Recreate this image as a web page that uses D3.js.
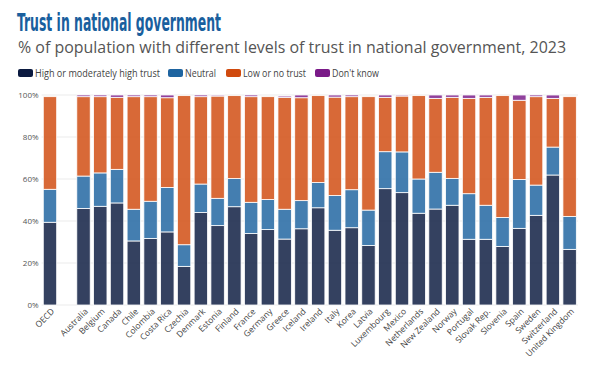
<!DOCTYPE html>
<html>
<head>
<meta charset="utf-8">
<script src="https://cdn.jsdelivr.net/npm/d3@7"></script>
<style>
  body { margin: 0; background: #fff; }
  svg text { font-family: "Open Sans", "Noto Sans", sans-serif; }
</style>
</head>
<body>
<svg id="chart" width="600" height="374"></svg>
<script>
const COUNTRIES = [
  'OECD', 'Australia', 'Belgium', 'Canada', 'Chile', 'Colombia', 'Costa Rica', 'Czechia',
  'Denmark', 'Estonia', 'Finland', 'France', 'Germany', 'Greece', 'Iceland', 'Ireland',
  'Italy', 'Korea', 'Latvia', 'Luxembourg', 'Mexico', 'Netherlands', 'New Zealand',
  'Norway', 'Portugal', 'Slovak Rep.', 'Slovenia', 'Spain', 'Sweden', 'Switzerland',
  'United Kingdom'
]

const HIGH = [39.4, 46.0, 47.0, 48.6, 30.5, 31.7, 34.8, 18.4, 44.0, 37.8, 46.8, 34.0, 35.9, 31.4, 36.3, 46.3,
  35.6, 36.8, 28.3, 55.4, 53.5, 43.7, 45.7, 47.5, 31.3, 31.3, 27.9, 36.5, 42.7, 61.9, 26.5]
const NEUTRAL = [15.7, 15.4, 15.9, 16.0, 15.1, 17.7, 21.2, 10.3, 13.6, 13.0, 13.4, 14.9, 14.3, 14.2, 13.4, 12.0,
  16.5, 18.1, 16.9, 17.6, 19.4, 16.3, 17.5, 12.8, 21.7, 16.2, 13.8, 23.3, 14.4, 13.3, 15.7]
const LOW = [44.1, 37.8, 36.3, 34.3, 53.6, 49.8, 42.7, 71.0, 41.6, 48.7, 39.5, 50.3, 49.0, 53.3, 49.0, 41.4,
  46.9, 44.3, 54.0, 25.9, 26.6, 39.7, 35.2, 38.6, 45.4, 51.4, 58.0, 37.7, 42.1, 23.2, 57.0]
const DONT_KNOW = [0, 0.8, 0.8, 1.1, 0.8, 0.8, 1.3, 0, 0.8, 0.5, 0, 0.8, 0, 0.6, 1.3, 0,
  1.0, 0.8, 0, 1.1, 0.5, 0, 1.6, 1.1, 1.6, 1.1, 0, 2.5, 0.8, 1.6, 0]

const SERIES = ['High or moderately high trust', 'Neutral', 'Low or no trust', "Don't know"]
const COLORS = ['#0b1a40', '#1e64a0', '#d04a0e', '#7a1a88']
const Y_TICKS = [0, 20, 40, 60, 80, 100]

const svg = d3.select('#chart')

// header
svg.append('text')
  .attr('x', 17).attr('y', 31)
  .attr('fill', '#1a5f9e')
  .attr('font-size', 24)
  .attr('font-weight', 'bold')
  .style('font-family', '"DejaVu Sans Condensed", "Liberation Sans Narrow", sans-serif')
  .attr('textLength', 204)
  .attr('lengthAdjust', 'spacingAndGlyphs')
  .text('Trust in national government')

svg.append('text')
  .attr('x', 18).attr('y', 53)
  .attr('fill', '#555')
  .attr('font-size', 15.5)
  .attr('textLength', 548)
  .attr('lengthAdjust', 'spacingAndGlyphs')
  .text('% of population with different levels of trust in national government, 2023')

// legend
const legendX = [18, 168, 226, 315]
const legendW = [125, 31, 63, 47]
const legend = svg.append('g')
SERIES.forEach((s, i) => {
  const g = legend.append('g').attr('transform', `translate(${legendX[i]},69)`)
  g.append('rect').attr('width', 15).attr('height', 8).attr('rx', 2).attr('fill', COLORS[i])
  g.append('text').attr('x', 17).attr('y', 7.5)
    .attr('font-size', 10).attr('fill', '#444')
    .attr('textLength', legendW[i]).attr('lengthAdjust', 'spacingAndGlyphs')
    .text(s)
})

// chart
const rows = COUNTRIES.map((c, i) => ({
  country: c, high: HIGH[i], neutral: NEUTRAL[i], low: LOW[i], dk: DONT_KNOW[i]
}))
const keys = ['high', 'neutral', 'low', 'dk']
const stacked = d3.stack().keys(keys)(rows)

const domain = [COUNTRIES[0], ' ', ...COUNTRIES.slice(1)]
const x = d3.scaleBand().domain(domain).range([41.6, 578]).paddingInner(0.2).paddingOuter(0.1)
const y = d3.scaleLinear().domain([0, 100]).range([305, 95])

svg.append('g')
  .selectAll('line')
  .data(Y_TICKS)
  .join('line')
  .attr('x1', 41.6).attr('x2', 578)
  .attr('y1', d => y(d)).attr('y2', d => y(d))
  .attr('stroke', '#ececec')
  .attr('stroke-width', 1.2)

const yAxis = svg.append('g')
  .attr('transform', 'translate(41.6,0)')
  .call(d3.axisLeft(y).tickValues(Y_TICKS).tickSize(0).tickPadding(3).tickFormat(d => d + '%'))
yAxis.select('.domain').remove()
yAxis.selectAll('text').attr('font-size', 8).attr('fill', '#555').style('font-family', '"Open Sans", sans-serif')

svg.append('g')
  .selectAll('g')
  .data(stacked)
  .join('g')
  .attr('fill', (d, i) => COLORS[i])
  .attr('fill-opacity', 0.83)
  .selectAll('rect')
  .data(d => d)
  .join('rect')
  .attr('x', d => x(d.data.country))
  .attr('width', x.bandwidth())
  .attr('y', d => y(d[1]))
  .attr('height', d => Math.max(0, y(d[0]) - y(d[1])))
  .attr('stroke', '#fff')
  .attr('stroke-width', 0.8)

const xAxis = svg.append('g')
  .attr('transform', 'translate(0,305)')
  .call(d3.axisBottom(x).tickValues(COUNTRIES).tickSize(0).tickPadding(0))
xAxis.select('.domain').remove()
xAxis.selectAll('text')
  .attr('font-size', 8.5)
  .attr('fill', '#444')
  .style('font-family', '"Open Sans", sans-serif')
  .attr('text-anchor', 'end')
  .attr('dy', null)
  .attr('y', 0)
  .attr('transform', 'translate(5,7) rotate(-45)')
</script>
</body>
</html>
